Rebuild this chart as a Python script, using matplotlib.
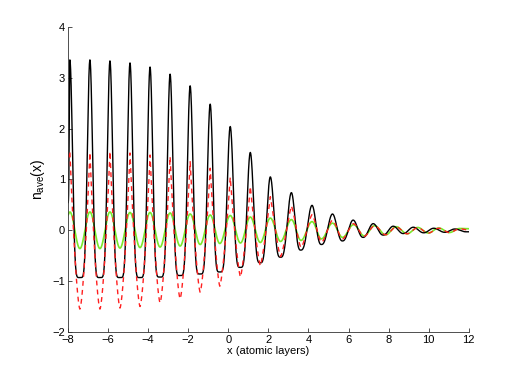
import numpy as np
import matplotlib
matplotlib.use('Agg')
import matplotlib.pyplot as plt

# extrema (x in atomic layers, value of n_ave)
black_start = (-8.0, 0.54)
black_end = (12.0, -0.03)
black_peak_x = [-7.9, -6.9, -5.9, -4.9, -3.9, -2.9, -1.9, -0.9, 0.1, 1.1,
                2.1, 3.15, 4.18, 5.2, 6.23, 7.23, 8.23, 9.23, 10.25, 11.3]
black_peak_y = [3.35, 3.35, 3.33, 3.29, 3.21, 3.07, 2.84, 2.48, 2.04, 1.53,
                1.05, 0.74, 0.49, 0.32, 0.20, 0.13, 0.08, 0.06, 0.04, 0.025]
black_trough_x = [-7.4, -6.4, -5.4, -4.4, -3.4, -2.4, -1.4, -0.42, 0.61, 1.6,
                  2.61, 3.62, 4.65, 5.7, 6.73, 7.73, 8.73, 9.75, 10.8, 11.85]
black_trough_y = [-0.93, -0.93, -0.93, -0.93, -0.92, -0.89, -0.86, -0.82, -0.73, -0.64,
                  -0.53, -0.39, -0.28, -0.21, -0.14, -0.095, -0.065, -0.05, -0.04, -0.03]

red_start = (-8.0, 1.4)
red_end = (12.0, 0.0)
red_peak_x = [-7.9, -6.9, -5.9, -4.9, -3.9, -2.9, -1.9, -0.9, 0.1, 1.1,
              2.1, 3.15, 4.18, 5.2, 6.25, 7.3, 8.38, 9.45, 10.5, 11.55]
red_peak_y = [1.55, 1.53, 1.55, 1.52, 1.48, 1.45, 1.35, 1.22, 1.04, 0.86,
              0.66, 0.48, 0.31, 0.20, 0.13, 0.09, 0.065, 0.05, 0.04, 0.03]
red_trough_x = [-7.4, -6.4, -5.4, -4.4, -3.4, -2.4, -1.4, -0.42, 0.61, 1.6,
                2.61, 3.63, 4.65, 5.7, 6.78, 7.85, 8.92, 9.98, 11.03]
red_trough_y = [-1.55, -1.55, -1.53, -1.5, -1.43, -1.35, -1.22, -1.1, -0.92, -0.7,
                -0.52, -0.34, -0.24, -0.17, -0.12, -0.09, -0.07, -0.055, -0.045]

green_start = (-8.0, 0.3)
green_end = (12.0, 0.03)
green_peak_x = red_peak_x
green_peak_y = [0.36, 0.36, 0.36, 0.35, 0.35, 0.34, 0.32, 0.30, 0.29, 0.26,
                0.24, 0.21, 0.17, 0.14, 0.11, 0.09, 0.07, 0.055, 0.045, 0.035]
green_trough_x = red_trough_x
green_trough_y = [-0.36, -0.36, -0.35, -0.34, -0.33, -0.31, -0.28, -0.26, -0.25, -0.24,
                  -0.22, -0.2, -0.17, -0.14, -0.11, -0.09, -0.07, -0.055, -0.045]


def shape_black(s, r):
    # sharp peaks, flat bottoms
    return ((1 - np.cos(np.pi*s))/2)**(1 + 0.5*r)

def shape_red(s, r):
    w = min(1.0, r/1.5)
    return w*s**(1 + 0.18*r) + (1 - w)*(1 - np.cos(np.pi*s))/2

def shape_green(s, r):
    return (1 - np.cos(np.pi*s))/2


def trace(start, px, py, tx, ty, end, shape):
    kx = [start[0]]
    ky = [start[1]]
    for i in range(len(px)):
        kx.append(px[i]); ky.append(py[i])
        if i < len(tx):
            kx.append(tx[i]); ky.append(ty[i])
    kx.append(end[0]); ky.append(end[1])
    xs, ys = [], []
    t = np.linspace(0, 1, 80)
    for i in range(len(kx)-1):
        y0, y1 = ky[i], ky[i+1]
        lo, hi = min(y0, y1), max(y0, y1)
        s = t if y1 >= y0 else 1 - t
        xs.append(kx[i] + (kx[i+1]-kx[i])*t)
        ys.append(lo + (hi-lo)*shape(s, hi-lo))
    return np.concatenate(xs), np.concatenate(ys)


plt.rcParams['font.family'] = ['Liberation Sans', 'DejaVu Sans']
plt.rcParams['mathtext.fontset'] = 'custom'
plt.rcParams['mathtext.rm'] = 'Liberation Sans'
fig = plt.figure(figsize=(5.18, 3.73), dpi=100, facecolor='white')
ax = fig.add_axes([0.131, 0.110, 0.774, 0.818])

x, y = trace(green_start, green_peak_x, green_peak_y, green_trough_x, green_trough_y, green_end, shape_green)
ax.plot(x, y, color='#7ae82a', lw=1.2)
x, y = trace(black_start, black_peak_x, black_peak_y, black_trough_x, black_trough_y, black_end, shape_black)
ax.plot(x, y, color='k', lw=1.0)
x, y = trace(red_start, red_peak_x, red_peak_y, red_trough_x, red_trough_y, red_end, shape_red)
ax.plot(x, y, color='#ff2020', lw=1.0, ls=(0, (3.5, 3)))

ax.set_xlim(-8, 12)
ax.set_ylim(-2, 4)
ax.set_xticks(np.arange(-8, 13, 2))
ax.set_yticks(np.arange(-2, 5, 1))
for side in ['top', 'right']:
    ax.spines[side].set_visible(False)
for side in ['left', 'bottom']:
    ax.spines[side].set_linewidth(0.6)
    ax.spines[side].set_color('#333333')
ax.tick_params(direction='in', length=3, width=0.6, color='#333333', labelsize=8, pad=2)
ax.set_xlabel('x (atomic layers)', fontsize=8, labelpad=1)
ax.set_ylabel(r'n$_\mathregular{ave}$(x)', fontsize=10, labelpad=4)

fig.savefig('out.png', dpi=100)
